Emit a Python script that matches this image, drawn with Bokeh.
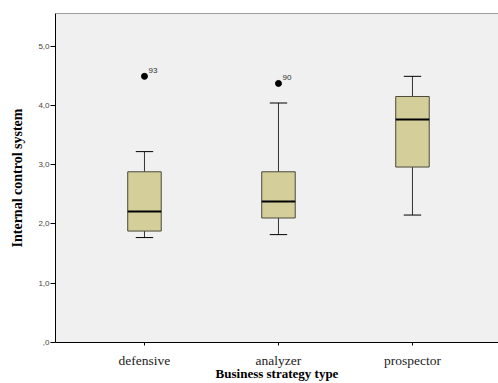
from bokeh.plotting import figure
from bokeh.models import FixedTicker, Range1d, ColumnDataSource, Span
from bokeh.core.properties import value
from bokeh.embed import file_html
from bokeh.resources import INLINE

categories = ["defensive", "analyzer", "prospector"]
lower = [1.77, 1.82, 2.15]
q1 = [1.88, 2.10, 2.96]
median = [2.21, 2.38, 3.76]
q3 = [2.88, 2.88, 4.15]
upper = [3.22, 4.04, 4.49]
outlier_cat = [0, 1]
outlier_val = [4.49, 4.37]
outlier_label = ["93", "90"]
y_ticks = [0, 1, 2, 3, 4, 5]
y_tick_labels = [",0", "1,0", "2,0", "3,0", "4,0", "5,0"]

xs = [i + 1 for i in range(len(categories))]
bw = 0.25
cw = 0.065
y_top = 5.55

p = figure(width=498, height=383, output_backend="svg", toolbar_location=None,
           x_range=Range1d(0.336, 3.642), y_range=Range1d(0, y_top),
           min_border_left=55, min_border_right=0, min_border_top=13, min_border_bottom=41)
p.background_fill_color = "#f0f0f0"
p.border_fill_color = "white"
p.outline_line_color = None
p.grid.visible = False
p.add_layout(Span(location=y_top, dimension="width", line_color="#444444", line_width=1))

src = ColumnDataSource(dict(x=xs, lower=lower, q1=q1, median=median, q3=q3, upper=upper,
                            cl=[x - cw for x in xs], cr=[x + cw for x in xs],
                            ml=[x - bw / 2 for x in xs], mr=[x + bw / 2 for x in xs]))

# whiskers
p.segment(x0="x", y0="q3", x1="x", y1="upper", source=src, line_color="#333333", line_width=1)
p.segment(x0="x", y0="q1", x1="x", y1="lower", source=src, line_color="#333333", line_width=1)
p.segment(x0="cl", y0="upper", x1="cr", y1="upper", source=src, line_color="black", line_width=1)
p.segment(x0="cl", y0="lower", x1="cr", y1="lower", source=src, line_color="black", line_width=1)
# boxes
p.vbar(x="x", width=bw, top="q3", bottom="q1", source=src,
       fill_color="#d3ce9a", line_color="#4a4a3a", line_width=1)
p.segment(x0="ml", y0="median", x1="mr", y1="median", source=src, line_color="black", line_width=2)

# outliers
osrc = ColumnDataSource(dict(x=[xs[i] for i in outlier_cat], y=outlier_val, t=outlier_label))
p.scatter(x="x", y="y", source=osrc, size=6, fill_color="black", line_color="black")
p.text(x="x", y="y", text="t", source=osrc, x_offset=4, y_offset=-3,
       text_font=value("Liberation Sans"), text_font_size="8px", text_color="#333333",
       text_baseline="bottom", text_align="left")

# axes
p.xaxis.ticker = FixedTicker(ticks=xs)
p.xaxis.major_label_overrides = {x: c for x, c in zip(xs, categories)}
p.xaxis.major_label_text_font = "Liberation Serif"
p.xaxis.major_label_text_font_size = "13.5px"
p.xaxis.major_label_text_color = "#222222"
p.xaxis.major_label_standoff = 7
p.xaxis.major_tick_out = 3
p.xaxis.major_tick_in = 0
p.xaxis.minor_tick_line_color = None
p.xaxis.axis_line_color = "black"
p.xaxis.axis_label = "Business strategy type"
p.xaxis.axis_label_text_font = "Liberation Serif"
p.xaxis.axis_label_text_font_style = "bold"
p.xaxis.axis_label_text_font_size = "13px"
p.xaxis.axis_label_text_color = "black"
p.xaxis.axis_label_standoff = -5

p.yaxis.ticker = FixedTicker(ticks=y_ticks)
p.yaxis.major_label_overrides = {t: l for t, l in zip(y_ticks, y_tick_labels)}
p.yaxis.major_label_text_font = "Liberation Sans"
p.yaxis.major_label_text_font_size = "8px"
p.yaxis.major_label_text_color = "#444444"
p.yaxis.major_label_standoff = 1
p.yaxis.major_tick_out = 5
p.yaxis.major_tick_in = 0
p.yaxis.minor_tick_line_color = None
p.yaxis.axis_line_color = "black"
p.yaxis.axis_label = "Internal control system"
p.yaxis.axis_label_text_font = "Liberation Serif"
p.yaxis.axis_label_text_font_style = "bold"
p.yaxis.axis_label_text_font_size = "14px"
p.yaxis.axis_label_text_color = "black"
p.yaxis.axis_label_standoff = 10

open("out.html", "w").write(file_html(p, INLINE))
